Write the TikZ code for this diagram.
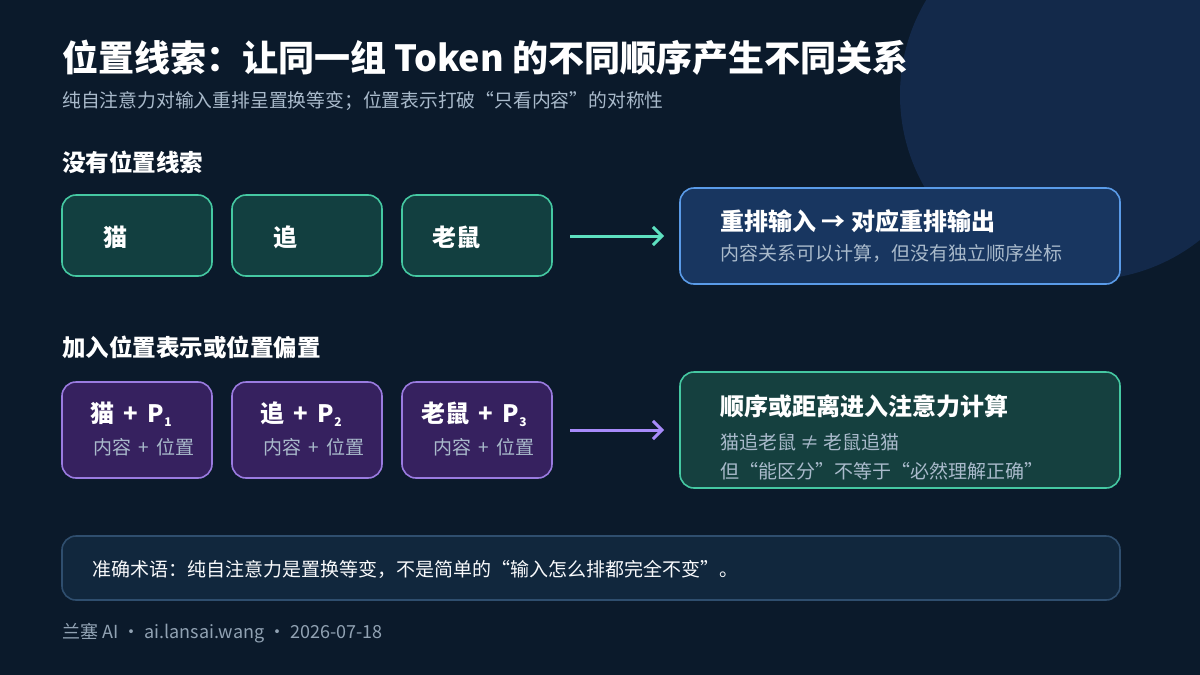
\documentclass[tikz,border=0pt]{standalone}
\usepackage{fontspec}
\setmainfont{Noto Sans CJK SC}
\usetikzlibrary{arrows.meta}
\definecolor{bg}{HTML}{0B1A2B}
\definecolor{circ}{HTML}{13294A}
\definecolor{tealf}{HTML}{123F40}
\definecolor{teald}{HTML}{45C8A2}
\definecolor{purf}{HTML}{36215F}
\definecolor{purd}{HTML}{9A7BE0}
\definecolor{bluef}{HTML}{183660}
\definecolor{blued}{HTML}{5A9BE8}
\definecolor{gf}{HTML}{15403F}
\definecolor{botf}{HTML}{11273D}
\definecolor{botd}{HTML}{2F4E6E}
\definecolor{sub}{HTML}{A9BACB}
\definecolor{arrT}{HTML}{5EE0C0}
\definecolor{arrP}{HTML}{A78BFA}
\begin{document}
\begin{tikzpicture}[x=1pt,y=-1pt,
 box/.style={draw,line width=1.6pt,rounded corners=14pt},
 tok/.style={box,fill=tealf,draw=teald},
 ptok/.style={box,fill=purf,draw=purd},
 txt/.style={anchor=west,inner sep=0pt,text=white},
 big/.style={txt,font=\bfseries\fontsize{24}{27}\selectfont},
 small/.style={txt,font=\fontsize{19}{22}\selectfont,text=sub},
 arr/.style={line width=3pt,-{Straight Barb[length=9pt,width=18pt]}}]
\useasboundingbox (0,0) rectangle (1200,675);
\fill[bg] (0,0) rectangle (1200,675);
\begin{scope}
\clip (0,0) rectangle (1200,675);
\fill[circ] (1085,95) circle (185);
\end{scope}
\node[txt,font=\bfseries\fontsize{36}{40}\selectfont] (title) at (62,58) {位置线索：让同一组 Token 的不同顺序产生不同关系};
\node[txt,font=\fontsize{18.8}{22}\selectfont,text=sub] (subt) at (62,101) {纯自注意力对输入重排呈置换等变；位置表示打破“只看内容”的对称性};
\node[txt,font=\bfseries\fontsize{23.5}{26}\selectfont] (h1) at (62,162) {没有位置线索};
\node[txt,font=\bfseries\fontsize{23.5}{26}\selectfont] (h2) at (62,347) {加入位置表示或位置偏置};
% row 1
\draw[tok] (62,195) rectangle (212,276);
\draw[tok] (232,195) rectangle (382,276);
\draw[tok] (402,195) rectangle (552,276);
\node[big] (t1) at (103,237) {猫};
\node[big] (t2) at (273,237) {追};
\node[big] (t3) at (432,237) {老鼠};
\coordinate (a1s) at (570,236); \coordinate (a1e) at (664,236);
\draw[arr,arrT] (a1s) -- (a1e);
\draw[box,fill=bluef,draw=blued] (680,188) rectangle (1120,284);
\node[big] (r1) at (720,221) {重排输入 → 对应重排输出};
\node[small] (r1b) at (720,253) {内容关系可以计算，但没有独立顺序坐标};
% row 2
\draw[ptok] (62,382) rectangle (212,478);
\draw[ptok] (232,382) rectangle (382,478);
\draw[ptok] (402,382) rectangle (552,478);
\node[big] (p1) at (90,414) {猫\, +\, P\textsubscript{\fontsize{12}{13}\selectfont 1}};
\node[big] (p2) at (260,414) {追\, +\, P\textsubscript{\fontsize{12}{13}\selectfont 2}};
\node[big] (p3) at (421,414) {老鼠\, +\, P\textsubscript{\fontsize{12}{13}\selectfont 3}};
\node[small] (q1) at (93,447) {内容\, +\, 位置};
\node[small] (q2) at (263,447) {内容\, +\, 位置};
\node[small] (q3) at (433,447) {内容\, +\, 位置};
\coordinate (a2s) at (570,430); \coordinate (a2e) at (664,430);
\draw[arr,arrP] (a2s) -- (a2e);
\draw[box,fill=gf,draw=teald] (680,372) rectangle (1120,488);
\node[big] (r2) at (720,406) {顺序或距离进入注意力计算};
\node[small] (r2b) at (720,442) {猫追老鼠 ≠ 老鼠追猫};
\node[small] (r2c) at (720,471) {但“能区分”不等于“必然理解正确”};
% bottom
\draw[box,fill=botf,draw=botd] (62,536) rectangle (1120,600);
\node[txt,font=\fontsize{19}{22}\selectfont,text=white!92!sub] (note) at (92,569) {准确术语：纯自注意力是置换等变，不是简单的“输入怎么排都完全不变”。};
\node[txt,font=\fontsize{18}{21}\selectfont,text=sub!85!bg] (foot) at (62,633) {兰塞 AI · ai.lansai.wang · 2026-07-18};
\end{tikzpicture}
\end{document}
